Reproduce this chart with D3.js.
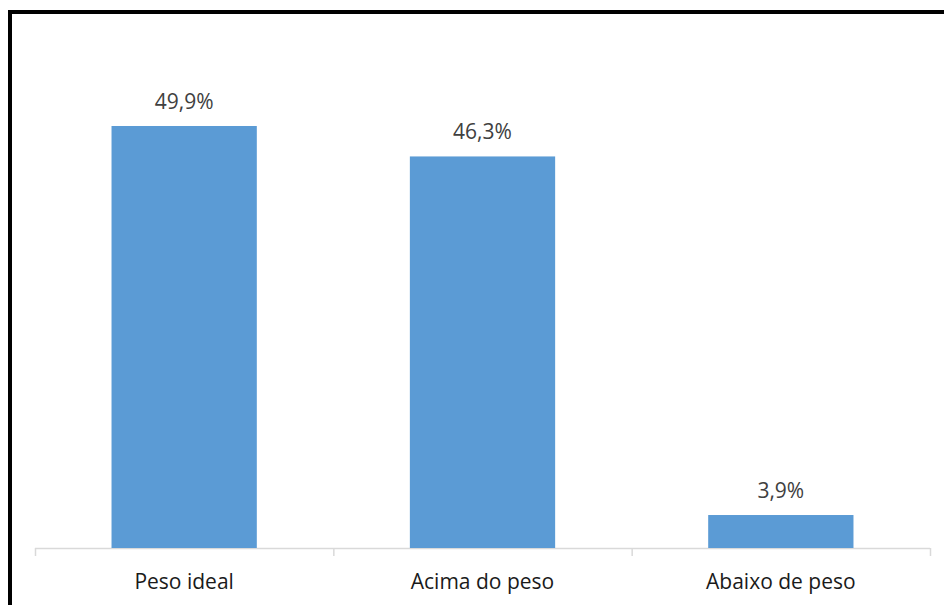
<!DOCTYPE html>
<html>
<head>
<meta charset="utf-8">
<script src="https://cdn.jsdelivr.net/npm/d3@7"></script>
<style>
  body { margin: 0; background: #fff; }
  svg text { font-family: "Open Sans", sans-serif; }
</style>
</head>
<body>
<div id="chart"></div>
<script>
// chart data
const categories = ["Peso ideal", "Acima do peso", "Abaixo de peso"];
const values = [49.9, 46.3, 3.9];
const valueLabels = ["49,9%", "46,3%", "3,9%"];

const width = 944, height = 605;
const svg = d3.select("#chart").append("svg")
  .attr("width", width)
  .attr("height", height);

// outer frame (only top and left edges visible)
svg.append("path")
  .attr("d", `M10,${height + 5} L10,12 L${width + 5},12`)
  .attr("fill", "none")
  .attr("stroke", "#000")
  .attr("stroke-width", 4);

const baseY = 548;
const x = d3.scaleBand().domain(categories).range([35, 930]).paddingInner(0.513).paddingOuter(0.2565);
const y = d3.scaleLinear().domain([0, 60]).range([baseY, baseY - 60 * 8.457]);

// axis line with ticks at band boundaries
const xAxis = svg.append("g");
xAxis.append("line")
  .attr("x1", 35).attr("x2", 930)
  .attr("y1", baseY + 0.5).attr("y2", baseY + 0.5)
  .attr("stroke", "#d9d9d9").attr("stroke-width", 1.5);

const step = (930 - 35) / categories.length;
xAxis.selectAll(".tick")
  .data(d3.range(categories.length + 1))
  .enter().append("line")
  .attr("x1", i => 35.5 + i * step).attr("x2", i => 35.5 + i * step)
  .attr("y1", baseY).attr("y2", baseY + 8)
  .attr("stroke", "#d9d9d9").attr("stroke-width", 1.5);

const data = categories.map((c, i) => ({ cat: c, value: values[i], label: valueLabels[i] }));

svg.selectAll("rect.bar")
  .data(data)
  .enter().append("rect")
  .attr("class", "bar")
  .attr("x", d => x(d.cat))
  .attr("y", d => y(d.value))
  .attr("width", x.bandwidth())
  .attr("height", d => y(0) - y(d.value))
  .attr("fill", "#5b9bd5");

svg.selectAll("text.val")
  .data(data)
  .enter().append("text")
  .attr("class", "val")
  .attr("x", d => x(d.cat) + x.bandwidth() / 2)
  .attr("y", d => y(d.value) - 17)
  .attr("text-anchor", "middle")
  .attr("font-size", "21px")
  .attr("fill", "#404040")
  .text(d => d.label);

svg.selectAll("text.cat")
  .data(data)
  .enter().append("text")
  .attr("class", "cat")
  .attr("x", d => x(d.cat) + x.bandwidth() / 2)
  .attr("y", 589)
  .attr("text-anchor", "middle")
  .attr("font-size", "21px")
  .attr("fill", "#1a1a1a")
  .text(d => d.cat);
</script>
</body>
</html>
